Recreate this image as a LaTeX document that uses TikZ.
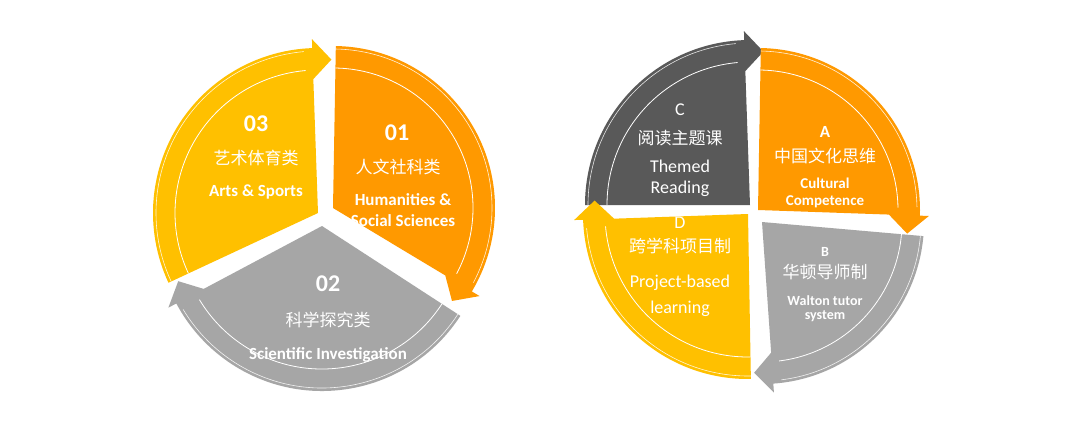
\documentclass[tikz,border=0pt]{standalone}
\usepackage{fontspec}
\setmainfont{Carlito}
\newfontfamily\cjk{Noto Sans CJK SC}[BoldFont={* Light}]
\definecolor{orng}{HTML}{FF9900}
\definecolor{yel}{HTML}{FFC000}
\definecolor{gry}{HTML}{A6A6A6}
\definecolor{dgry}{HTML}{595959}
\newcommand{\sectorarrow}[7]{%
\begin{scope}[shift={(#1,#2)}]
\fill[#7] (0,0) -- (#3:#5) arc[start angle=#3,end angle=#4,radius=#5] -- (#4:{#5+9}) -- ({#4-7}:{#5-#6/2}) -- (#4:{#5-#6-9}) -- cycle;
\draw[white,line width=0.8pt] (#3:{#5-#6}) arc[start angle=#3,end angle={#4+3},radius={#5-#6}];
\draw[white!85!#7,line width=0.6pt] (#3:{#5-3}) arc[start angle=#3,end angle={#4+3},radius={#5-3}];
\end{scope}}
\tikzset{num/.style={text=white,font=\bfseries\fontsize{24}{26}\selectfont},
zh/.style={text=white,font=\cjk\fontsize{17}{19}\selectfont},
en/.style={text=white,font=\bfseries\fontsize{17}{21}\selectfont,align=center},
enl/.style={text=white,font=\fontsize{18}{21}\selectfont,align=center}}
\begin{document}
\begin{tikzpicture}[x=1pt,y=1pt]
\useasboundingbox[fill=white] (0,0) rectangle (1080,-439);
% left
\sectorarrow{318}{-213}{205}{92}{165}{22}{yel}
\sectorarrow{333}{-208}{89}{-31}{162}{22}{orng}
\sectorarrow{322}{-226}{-33}{-152}{165}{22}{gry}
\node[num] (n3) at (256,-124) {03};
\node[zh] (z3) at (256,-158) {艺术体育类};
\node[en] (e3) at (256,-192) {Arts \& Sports};
\node[num] (n1) at (397,-133) {01};
\node[zh] (z1) at (398,-167) {人文社科类};
\node[en] (e1) at (403,-210) {Humanities \&\\Social Sciences};
\node[num] (n2) at (328,-284) {02};
\node[zh] (z2) at (328,-320) {科学探究类};
\node[en] (e2) at (328,-355) {Scientific Investigation};
% right
\sectorarrow{750}{-205}{180}{92}{165}{22}{dgry}
\sectorarrow{758}{-210}{89}{-2}{162}{22}{orng}
\sectorarrow{762}{-222}{-5}{-86}{162}{22}{gry}
\sectorarrow{748}{-214}{271}{182}{165}{22}{yel}
\node[enl] (nc) at (680,-110) {C};
\node[zh] (zc) at (680,-138) {阅读主题课};
\node[enl] (ec) at (680,-178) {Themed\\Reading};
\node[num,font=\bfseries\fontsize{17}{19}\selectfont] (na) at (825,-132) {A};
\node[zh] (za) at (825,-156) {中国文化思维};
\node[en,font=\bfseries\fontsize{15}{17}\selectfont] (ea) at (825,-193) {Cultural\\Competence};
\node[en,font=\bfseries\fontsize{14}{15}\selectfont] (nb) at (825,-252) {B};
\node[zh] (zb) at (825,-272) {华顿导师制};
\node[en,font=\bfseries\fontsize{14}{14}\selectfont] (eb) at (825,-309) {Walton tutor\\system};
\node[enl] (nd) at (680,-223) {D};
\node[zh] (zd) at (680,-246) {跨学科项目制};
\node[enl,font=\fontsize{18}{26}\selectfont] (ed) at (680,-296) {Project-based\\learning};
\end{tikzpicture}
\end{document}
